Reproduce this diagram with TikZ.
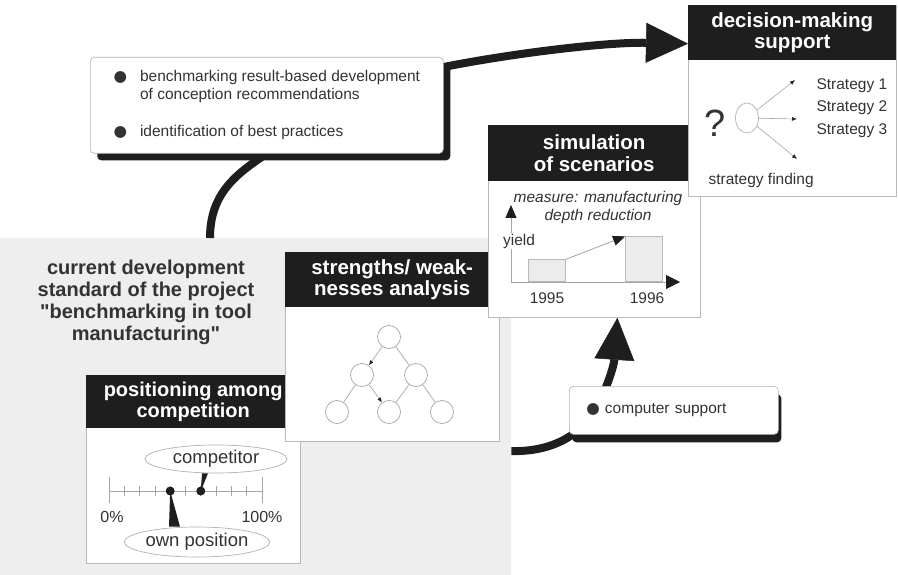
\documentclass[tikz,border=0pt]{standalone}
\usepackage{fontspec}
\setmainfont{Liberation Sans}
\newfontfamily\symfont{DejaVu Sans}
\newfontfamily\quotefont{Liberation Sans}[Ligatures=ResetAll]
\newcommand{\dq}{{\quotefont"}}
\usetikzlibrary{calc,arrows.meta,positioning,shapes.geometric,shadows}

\definecolor{headblack}{HTML}{1E1E1E}
\definecolor{ink}{HTML}{333333}
\definecolor{bgarea}{HTML}{EEEEEE}

\pgfdeclarelayer{bottom}
\pgfdeclarelayer{back}
\pgfsetlayers{bottom,back,main}

\begin{document}
\begin{tikzpicture}[
  x=1pt, y=-1pt,
  every node/.style={text=ink, font=\fontsize{15.5}{18}\selectfont},
  panel/.style={draw=gray!55, fill=white, line width=0.8pt, anchor=north west, inner sep=0pt},
  panelhead/.style={fill=headblack, text=white, anchor=north west, inner sep=0pt, align=center, font=\fontsize{20.5}{21.5}\selectfont\bfseries},
  notebox/.style={draw=gray!60, fill=white, rounded corners=4pt, line width=0.6pt, anchor=north west, inner sep=0pt},
  bigline/.style={draw=headblack, line width=8pt},
  bigarrow/.style={bigline, -{Triangle[length=42pt, width=40pt, line width=0.5pt]}},
  axisline/.style={draw=gray!70, line width=0.8pt},
  bar/.style={draw=gray!55, fill=gray!15, line width=0.6pt, inner sep=0pt},
  leaf/.style={circle, draw=gray!70, fill=white, minimum size=23pt, inner sep=0pt, line width=0.7pt},
  treeline/.style={draw=gray!70, line width=0.7pt},
  branch/.style={draw=gray!70, line width=0.6pt, -{Latex[length=5pt, width=4pt, color=headblack]}},
  dot/.style={circle, fill=headblack, minimum size=9pt, inner sep=0pt},
  tag/.style={ellipse, draw=gray!60, fill=white, line width=0.7pt, minimum width=142pt, minimum height=28pt, inner sep=0pt, font=\fontsize{18.5}{20}\selectfont},
  scaleline/.style={draw=gray!70, line width=0.7pt}
]
\useasboundingbox (0,0) rectangle (898,575);

% grey area: current state of the project
\begin{pgfonlayer}{bottom}
  \node[fill=bgarea, minimum width=511pt, minimum height=337pt, anchor=north west, inner sep=0pt] (stdarea) at (0,238) {};
\end{pgfonlayer}
\node[font=\fontsize{20}{22}\selectfont\bfseries, align=center] (stdtext) at (146,302)
  {current development\\standard of the project\\\dq benchmarking in tool\\manufacturing\dq};

% note boxes
\node[notebox, minimum width=353pt, minimum height=96pt,
      drop shadow={shadow xshift=7pt, shadow yshift=-7pt, fill=headblack, opacity=1}] (bullets) at (90,57)
  {\begin{tabular}{@{}l@{\hspace{13pt}}l@{}}
    {\symfont ●} & benchmarking result-based development\\
     & of conception recommendations\\[19pt]
    {\symfont ●} & identification of best practices
  \end{tabular}};
\node[notebox, minimum width=209pt, minimum height=48pt, text width=175pt, align=left,
      drop shadow={shadow xshift=3pt, shadow yshift=-8pt, fill=headblack, opacity=1}] (cs) at (569,386)
  {{\symfont ●} computer support};

% positioning among competition
\node[panel, minimum width=214pt, minimum height=188pt] (pos) at (86,375) {};
\node[panelhead, minimum width=214pt, minimum height=53pt, font=\fontsize{20}{21.5}\selectfont\bfseries] (poshead) at (pos.north west) {positioning among\\competition};
\coordinate (sc0) at (109,491);
\coordinate (sc1) at (262,491);
\draw[scaleline] (sc0) -- (sc1);
\foreach \k in {1,...,9}
  \draw[scaleline] ($(sc0)!\k/10!(sc1)$) +(0,-5) -- +(0,5);
\foreach \p in {sc0,sc1}
  \draw[scaleline] (\p) +(0,-14) -- +(0,12);
\node[dot] (owndot) at ($(sc0)!0.4!(sc1)$) {};
\node[dot] (compdot) at ($(sc0)!0.6!(sc1)$) {};
\node[tag] (comp) at (216,459) {competitor};
\node[tag, minimum height=30pt] (own) at (197,542) {own position};
\fill[headblack] (owndot.center) -- ([xshift=-28pt]own.north) -- ([xshift=-17pt]own.north) -- cycle;
\fill[headblack] (compdot.center) -- ([xshift=-14pt]comp.south) -- ([xshift=-8pt]comp.south) -- cycle;
\node[font=\fontsize{16}{18}\selectfont] (pct0) at (112,517) {0\%};
\node[font=\fontsize{16}{18}\selectfont] (pct100) at (262,517) {100\%};

% strengths / weaknesses
\node[panel, minimum width=214pt, minimum height=189pt] (sw) at (285,252) {};
\node[panelhead, minimum width=214pt, minimum height=55pt] (swhead) at (sw.north west) {strengths/ weak-\\nesses analysis};
\node[leaf] (t) at (389,337) {};
\node[leaf] (ml) at (362,375) {};
\node[leaf] (mr) at (416,375) {};
\node[leaf] (bl) at (337,412) {};
\node[leaf] (bm) at (389,412) {};
\node[leaf] (br) at (442,412) {};
\draw[treeline, -{Latex[length=5pt, width=4pt, color=headblack]}] (t) -- (ml);
\draw[treeline] (t) -- (mr);
\draw[treeline] (ml) -- (bl);
\draw[treeline, -{Latex[length=5pt, width=4pt, color=headblack]}] (ml) -- (bm);
\draw[treeline] (mr) -- (bm);
\draw[treeline] (mr) -- (br);

% simulation of scenarios
\node[panel, minimum width=212pt, minimum height=192pt] (sim) at (488,125) {};
\node[panelhead, minimum width=212pt, minimum height=56pt] (simhead) at (sim.north west) {simulation\\of scenarios};
\node[font=\fontsize{15.5}{18}\selectfont\itshape, align=center] (measure) at (598,207) {measure: manufacturing\\depth reduction};
\coordinate (origin) at (511,282);
\coordinate (ytop) at (511,205);
\coordinate (xend) at (680,282);
\draw[axisline, -{Triangle[length=13pt, width=11pt, color=headblack]}] (origin) -- (ytop);
\draw[axisline, -{Triangle[length=14pt, width=14pt, color=headblack]}] (origin) -- (xend);
\node[fill=white, inner sep=1pt] (yieldlbl) at (519,241) {yield};
\node[bar, minimum width=37pt, minimum height=22pt, anchor=south west] (bar95) at (528,282) {};
\node[bar, minimum width=37pt, minimum height=45pt, anchor=south west] (bar96) at (625,282) {};
\draw[axisline, -{Triangle[length=12pt, width=10pt, color=headblack]}] (bar95.north east) -- (bar96.north west);
\node (y95) at (547,298) {1995};
\node (y96) at (647,298) {1996};

% decision-making support
\node[panel, minimum width=208pt, minimum height=191pt] (dec) at (688,5) {};
\node[panelhead, minimum width=208pt, minimum height=55pt] (dechead) at (dec.north west) {decision-making\\support};
\node[font=\fontsize{38}{38}\selectfont] (quest) at (715,123) {?};
\node[ellipse, draw=gray!60, minimum width=23pt, minimum height=30pt, inner sep=0pt, line width=0.7pt] (choice) at (747,118) {};
\coordinate (s1) at (795,80);
\coordinate (s2) at (797,119);
\coordinate (s3) at (797,159);
\draw[branch] (choice) -- (s1);
\draw[branch] (choice) -- (s2);
\draw[branch] (choice) -- (s3);
\node[anchor=west, align=left, font=\fontsize{15.5}{22.5}\selectfont] (strats) at (813,108) {Strategy 1\\Strategy 2\\Strategy 3};
\node[anchor=west] (finding) at (705,180) {strategy finding};

% thick connectors
\begin{pgfonlayer}{back}
  \draw[bigline] (stdarea.north -| 210,0) .. controls +(0,-45) and +(-30,20) .. (bullets.south);
  \draw[bigarrow] ([yshift=-10pt]bullets.north east) .. controls (520,52) and (610,42) .. ([yshift=-11pt]dechead.west);
  \draw[bigarrow] (stdarea.east |- 0,451) .. controls (545,452) and (580,440) .. (598,405)
    .. controls (608,385) and (614,365) .. ([xshift=23pt]sim.south);
\end{pgfonlayer}
\end{tikzpicture}
\end{document}
